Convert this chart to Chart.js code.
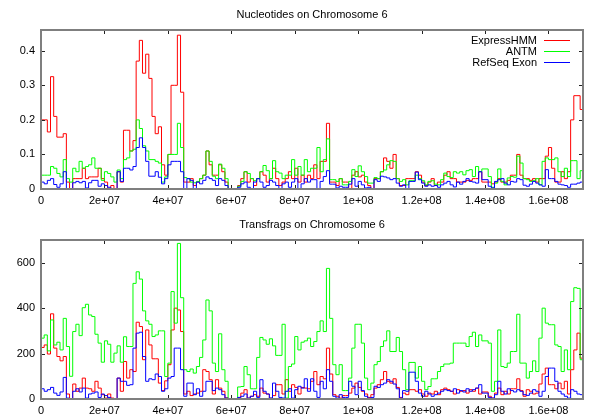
<!DOCTYPE html>
<html>
<head>
<meta charset="utf-8">
<script src="https://cdn.jsdelivr.net/npm/chart.js@4"></script>
<style>
    body { margin: 0; background: #fff; }
    .panel { width: 600px; height: 210px; }
</style>
</head>
<body>
<div class="panel"><canvas id="nucleotides" width="600" height="210"></canvas></div>
<div class="panel"><canvas id="transfrags" width="600" height="210"></canvas></div>
<script>
// bins of 1 Mb along chromosome 6
const binSize = 1e6;
const chromEnd = 1.709e8;

const seriesNames = ["ExpressHMM", "ANTM", "RefSeq Exon"];
const seriesColors = ["#ff0000", "#00ff00", "#0000ff"];
const xTicks = [0, 2e7, 4e7, 6e7, 8e7, 1e8, 1.2e8, 1.4e8, 1.6e8];
const nucTicks = [0, 0.1, 0.2, 0.3, 0.4];
const fragTicks = [0, 200, 400, 600];

// Nucleotides (fraction)
const expressNuc = [
    0.2, 0.2, 0.165, 0.325, 0.21, 0.15, 0.15, 0.16, 0.02, 0.0,
    0.03, 0.03, 0.03, 0.06, 0.03, 0.035, 0.035, 0.035, 0.06, 0.03,
    0.02, 0.0, 0.01, 0.0, 0.05, 0.02, 0.17, 0.17, 0.11, 0.14,
    0.37, 0.43, 0.335, 0.39, 0.32, 0.21, 0.16, 0.18, 0.07, 0.04,
    0.1, 0.3, 0.3, 0.445, 0.28,
    0.02, 0.02, 0.03, 0.01, 0.02, 0.03, 0.04, 0.11, 0.07, 0.04,
    0.04, 0.07, 0.05, 0.02, 0, 0, 0, 0.01, 0.03, 0.05,
    0.02, 0.03, 0.01, 0.03, 0.05, 0.04, 0.02, 0.03, 0.06, 0.03,
    0.01, 0.02, 0.03, 0.05, 0.03, 0.06, 0.02, 0.04, 0.02, 0.04,
    0.03, 0.07, 0.03, 0.08, 0.08, 0.19, 0.02, 0.02, 0.01, 0.03, 0.02,
    0.02, 0.0, 0.04, 0.05, 0.035, 0.04, 0.02, 0.01, 0.0, 0.03, 0.03,
    0.05, 0.09, 0.08, 0.06, 0.1, 0.03, 0.01, 0.01, 0.03, 0.03,
    0.03, 0.05, 0.04, 0.02, 0.01, 0.02, 0.03, 0.01, 0.02, 0.02, 0.04, 0.05,
    0.03, 0.03, 0.02, 0.02, 0.02, 0.025, 0.025, 0.03, 0.03, 0.05, 0.02,
    0.02, 0.02, 0.015, 0.02, 0.03, 0.02, 0.02, 0.025, 0.04, 0.04, 0.1,
    0.04, 0.03, 0.03, 0.025, 0.03, 0.02, 0.03, 0.03, 0.095,
    0.12, 0.06, 0.02, 0.02, 0.05, 0.03, 0.05, 0.2, 0.27, 0.27, 0.23
];
const antmNuc = [
    0.04, 0.04, 0.04, 0.065, 0.06, 0.045, 0.035, 0.085, 0.03, 0.02,
    0.06, 0.05, 0.08, 0.06, 0.065, 0.07, 0.09, 0.06, 0.06, 0.025,
    0.05, 0.045, 0.035, 0.02, 0.055, 0.03, 0.085, 0.09, 0.11, 0.115,
    0.2, 0.175, 0.125, 0.11, 0.085, 0.085, 0.08, 0.075, 0.02, 0.035,
    0.1, 0.1, 0.1, 0.19, 0.12,
    0.033, 0.03, 0.02, 0.018, 0.022, 0.03, 0.04, 0.11, 0.08, 0.037,
    0.03, 0.072, 0.06, 0.03, 0, 0, 0, 0.008, 0.022, 0.05,
    0.045, 0.03, 0.024, 0.03, 0.05, 0.068, 0.053, 0.03, 0.082, 0.05,
    0.046, 0.03, 0.04, 0.04, 0.085, 0.04, 0.065, 0.04, 0.085, 0.05,
    0.06, 0.06, 0.12, 0.05, 0.085, 0.145, 0.027, 0.027, 0.022, 0.03, 0.012,
    0.012, 0.022, 0.056, 0.036, 0.067, 0.05, 0.036, 0.017, 0.017, 0.033, 0.03,
    0.05, 0.055, 0.07, 0.082, 0.08, 0.03, 0.022, 0.027, 0.012, 0.024,
    0.024, 0.04, 0.03, 0.024, 0.012, 0.022, 0.024, 0.014, 0.012, 0.027, 0.046, 0.036,
    0.033, 0.05, 0.046, 0.05, 0.041, 0.053, 0.056, 0.036, 0.065, 0.05, 0.058,
    0.058, 0.036, 0.005, 0.017, 0.058, 0.022, 0.012, 0.032, 0.036, 0.034, 0.095,
    0.075, 0.03, 0.027, 0.022, 0.024, 0.03, 0.012, 0.08, 0.09,
    0.085, 0.085, 0.09, 0.05, 0.036, 0.06, 0.036, 0.082, 0.082, 0.03, 0.053
];
const refseqNuc = [
    0.02, 0.015, 0.025, 0.03, 0.013, 0.005, 0.015, 0.05, 0, 0,
    0.018, 0.022, 0.018, 0.022, 0.003, 0.018, 0.025, 0.025, 0.008, 0.015,
    0.01, 0.005, 0, 0, 0.05, 0.022, 0.06, 0.06, 0.055, 0.065,
    0.12, 0.148, 0.12, 0.08, 0.037, 0.037, 0.05, 0.034, 0.015, 0.03,
    0.07, 0.08, 0.08, 0.08, 0.05,
    0, 0.03, 0.025, 0, 0.02, 0.015, 0.025, 0.035, 0.03, 0.025,
    0.01, 0.03, 0.025, 0.01, 0, 0, 0, 0.005, 0.015, 0.02,
    0.005, 0, 0.02, 0.03, 0.02, 0.005, 0.01, 0.025, 0.02, 0.01,
    0, 0.015, 0.02, 0.005, 0.02, 0.03, 0, 0.015, 0.03, 0.02,
    0.027, 0.027, 0, 0.022, 0.036, 0.053, 0.014, 0.014, 0.003, 0.008, 0.005,
    0.005, 0.014, 0.03, 0.008, 0.022, 0.012, 0.003, 0.005, 0, 0.027, 0.022,
    0.037, 0.035, 0.032, 0.027, 0.03, 0.017, 0.008, 0.012, 0, 0.022,
    0.022, 0.049, 0.027, 0.017, 0.008, 0.012, 0.008, 0.01, 0.005, 0.012, 0.017, 0.022,
    0.012, 0.006, 0.02, 0.014, 0.022, 0.03, 0.022, 0.02, 0.017, 0.05, 0.027,
    0.027, 0.008, 0.003, 0.022, 0.027, 0.03, 0.017, 0.012, 0.022, 0.02, 0.03,
    0.027, 0.011, 0.008, 0.014, 0.022, 0.017, 0.012, 0.008, 0.056,
    0.03, 0.03, 0.022, 0.014, 0.012, 0.01, 0.005, 0.014, 0.014, 0.017, 0.02
];

// Transfrags (count)
const expressFrag = [
    227, 238, 198, 375, 224, 187, 168, 187, 22, 0,
    66, 34, 48, 92, 48, 45, 34, 78, 48, 19,
    4, 22, 4, 0, 92, 34, 165, 92, 129, 121,
    338, 319, 173, 304, 238, 177, 177, 70, 37, 80,
    151, 304, 400, 392, 297,
    22, 34, 15, 22, 26, 34, 129, 121, 85, 22,
    85, 48, 34, 5, 0, 0, 0, 4, 26, 41,
    4, 12, 19, 12, 48, 26, 22, 4, 15, 63,
    63, 22, 85, 34, 63, 51, 22, 51, 48, 45,
    78, 121, 63, 99, 89, 224, 110, 19, 12, 4, 15,
    15, 26, 48, 70, 51, 34, 22, 7, 19, 48, 63,
    85, 121, 78, 70, 89, 51, 7, 26, 19, 41,
    41, 34, 41, 22, 12, 26, 22, 34, 19, 41, 48, 41,
    34, 22, 41, 34, 37, 26, 41, 34, 48, 22, 31,
    31, 12, 4, 26, 48, 19, 34, 22, 45, 45, 89,
    37, 12, 41, 34, 22, 26, 66, 110, 136,
    63, 63, 45, 70, 45, 78, 22, 129, 216, 290, 180
];
const antmFrag = [
    268, 282, 212, 348, 238, 250, 216, 355, 231, 100,
    297, 329, 279, 402, 417, 370, 363, 285, 246, 162,
    256, 241, 162, 202, 234, 162, 274, 231, 231, 509,
    560, 528, 388, 344, 329, 275, 282, 300, 300, 99,
    158, 473, 334, 685, 446,
    129, 121, 132, 114, 143, 183, 260, 436, 388, 158,
    121, 287, 129, 78, 0, 0, 0, 53, 55, 143,
    107, 45, 45, 183, 271, 260, 241, 265, 234, 192,
    192, 329, 4, 143, 154, 275, 216, 250, 256, 268,
    231, 253, 297, 344, 297, 575, 355, 151, 107, 151, 37,
    37, 92, 224, 329, 329, 246, 92, 41, 70, 151, 165,
    231, 256, 300, 209, 209, 271, 209, 129, 41, 161,
    161, 92, 143, 78, 41, 55, 89, 89, 121, 143, 154, 154,
    158, 246, 246, 246, 246, 231, 275, 294, 231, 282, 256,
    256, 246, 34, 78, 304, 143, 139, 158, 209, 209, 373,
    158, 158, 92, 121, 168, 121, 268, 400, 334,
    327, 327, 238, 231, 121, 216, 129, 429, 490, 487, 173
];
const refseqFrag = [
    45, 34, 41, 51, 26, 16, 31, 95, 4, 0,
    34, 45, 31, 48, 4, 22, 26, 31, 7, 22,
    15, 7, 0, 0, 92, 78, 78, 60, 63, 224,
    290, 294, 187, 78, 89, 85, 110, 99, 34, 45,
    92, 99, 224, 224, 129,
    12, 70, 70, 19, 45, 12, 34, 78, 78, 37,
    48, 41, 19, 4, 0, 0, 0, 7, 12, 22,
    4, 12, 34, 7, 85, 34, 22, 4, 70, 34,
    7, 4, 34, 45, 4, 41, 56, 48, 89, 34,
    89, 34, 7, 78, 45, 129, 78, 12, 4, 19, 7,
    7, 78, 56, 19, 78, 37, 12, 4, 7, 56, 51,
    63, 70, 85, 78, 66, 45, 4, 37, 34, 118,
    118, 78, 26, 12, 34, 22, 12, 19, 26, 34, 41, 37,
    34, 45, 26, 37, 31, 45, 34, 41, 48, 63, 26,
    26, 7, 4, 19, 78, 34, 22, 45, 37, 31, 41,
    34, 19, 16, 26, 41, 34, 12, 34, 99,
    136, 136, 78, 34, 22, 12, 4, 41, 34, 22, 19
];

const binStarts = expressNuc.map((v, i) => i * binSize);

const FONT = '"Liberation Sans", Arial, Helvetica, sans-serif';
Chart.defaults.font.family = FONT;
Chart.defaults.font.size = 11;
Chart.defaults.color = "#000";

// gnuplot style exponent labels: 2e+07
function expLabel(v) {
    if (v === 0) return "0";
    const parts = v.toExponential().split("e");
    const sign = parts[1][0];
    const digits = parts[1].slice(1).padStart(2, "0");
    return parts[0] + "e" + sign + digits;
}

// step points: each value holds until the next bin start
function toSteps(values) {
    const pts = values.map((v, i) => ({ x: binStarts[i], y: v }));
    pts.push({ x: chromEnd, y: values[values.length - 1] });
    return pts;
}

const framePlugin = {
    id: "frame",
    afterDatasetsDraw(chart, args, opts) {
        const ctx = chart.ctx;
        const a = chart.chartArea;
        const xs = chart.scales.x;
        const ys = chart.scales.y;
        ctx.save();

        // inward tick marks on all four sides
        ctx.strokeStyle = "#222";
        ctx.lineWidth = 1;
        ctx.beginPath();
        opts.xTicks.forEach(function (t) {
            const px = Math.round(xs.getPixelForValue(t)) + 0.5;
            ctx.moveTo(px, a.bottom);
            ctx.lineTo(px, a.bottom - 4);
            ctx.moveTo(px, a.top);
            ctx.lineTo(px, a.top + 4);
        });
        opts.yTicks.forEach(function (t) {
            const py = Math.round(ys.getPixelForValue(t)) + 0.5;
            ctx.moveTo(a.left, py);
            ctx.lineTo(a.left + 4, py);
            ctx.moveTo(a.right, py);
            ctx.lineTo(a.right - 4, py);
        });
        ctx.stroke();

        // border drawn over the data like gnuplot
        ctx.strokeStyle = "#7f7f7f";
        ctx.lineWidth = 2;
        ctx.strokeRect(a.left, a.top, a.right - a.left, a.bottom - a.top);

        // title
        ctx.fillStyle = "#000";
        ctx.font = "11px " + FONT;
        ctx.textAlign = "center";
        ctx.textBaseline = "middle";
        ctx.fillText(opts.title, (a.left + a.right) / 2, 15);

        // key in the top right corner
        if (opts.legend) {
            chart.data.datasets.forEach(function (ds, k) {
                const y = Math.round(a.top + 10 + k * 11) + 0.5;
                ctx.textAlign = "right";
                ctx.fillStyle = "#000";
                ctx.fillText(ds.label, a.right - 46, y);
                ctx.strokeStyle = ds.borderColor;
                ctx.lineWidth = 1;
                ctx.beginPath();
                ctx.moveTo(a.right - 39, y);
                ctx.lineTo(a.right - 13, y);
                ctx.stroke();
            });
        }
        ctx.restore();
    }
};

function makeChart(id, title, series, yMax, yTicks, yFmt, legend) {
    const datasets = series.map(function (values, k) {
        return {
            label: seriesNames[k],
            data: toSteps(values),
            borderColor: seriesColors[k],
            borderWidth: 1,
            pointRadius: 0,
            stepped: true,
            fill: false,
            order: series.length - k
        };
    });

    return new Chart(document.getElementById(id), {
        type: "line",
        data: { datasets: datasets },
        plugins: [framePlugin],
        options: {
            responsive: false,
            animation: false,
            devicePixelRatio: 1,
            layout: { padding: { left: 0, right: 17, top: 30, bottom: 0 } },
            plugins: {
                legend: { display: false },
                title: { display: false },
                tooltip: { enabled: false },
                frame: { title: title, legend: legend, xTicks: xTicks, yTicks: yTicks }
            },
            scales: {
                x: {
                    type: "linear",
                    min: 0,
                    max: chromEnd,
                    grid: { display: false, drawTicks: false },
                    border: { display: false },
                    afterBuildTicks: function (scale) {
                        scale.ticks = xTicks.map(v => ({ value: v }));
                    },
                    afterFit: function (scale) { scale.height = 21; },
                    ticks: { padding: 5, maxRotation: 0, autoSkip: false, callback: v => expLabel(v) }
                },
                y: {
                    min: 0,
                    max: yMax,
                    grid: { display: false, drawTicks: false },
                    border: { display: false },
                    afterBuildTicks: function (scale) {
                        scale.ticks = yTicks.map(v => ({ value: v }));
                    },
                    afterFit: function (scale) { scale.width = 41; },
                    ticks: { padding: 6, callback: yFmt }
                }
            }
        }
    });
}

makeChart("nucleotides", "Nucleotides on Chromosome 6",
    [expressNuc, antmNuc, refseqNuc], 0.46, nucTicks,
    v => String(Math.round(v * 10) / 10), true);

makeChart("transfrags", "Transfrags on Chromosome 6",
    [expressFrag, antmFrag, refseqFrag], 700, fragTicks,
    v => String(v), false);
</script>
</body>
</html>
